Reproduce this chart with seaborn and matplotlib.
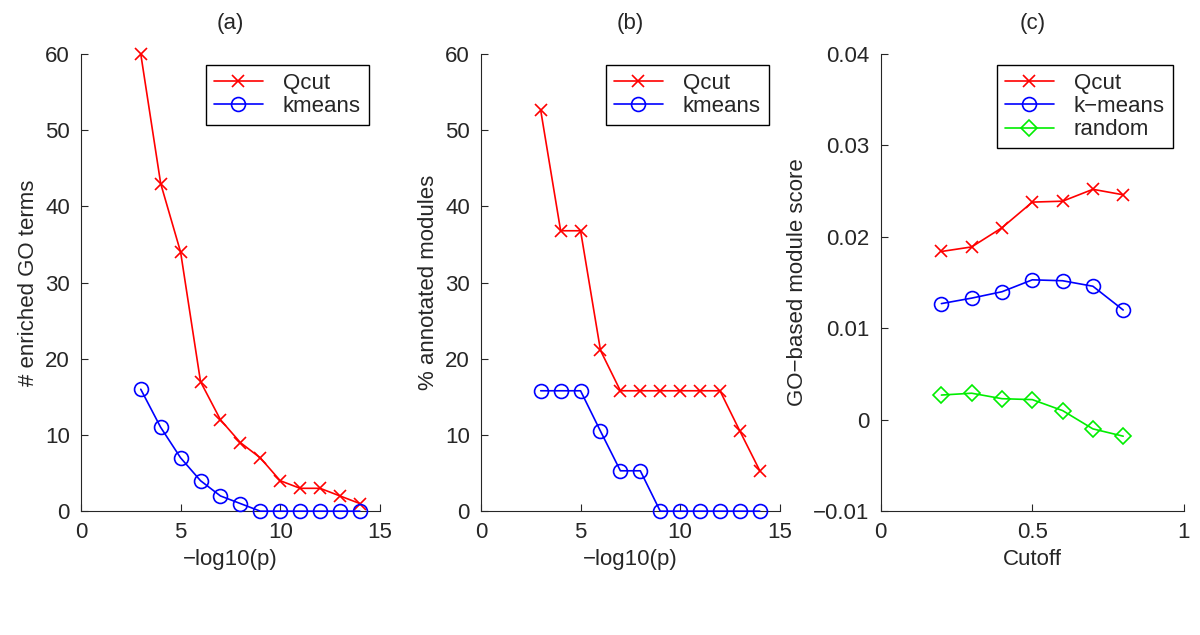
import seaborn as sns
import matplotlib.pyplot as plt
import pandas as pd

# data
p_cut = [3, 4, 5, 6, 7, 8, 9, 10, 11, 12, 13, 14]
go_qcut = [60, 43, 34, 17, 12, 9, 7, 4, 3, 3, 2, 1]
go_kmeans = [16, 11, 7, 4, 2, 1, 0, 0, 0, 0, 0, 0]
pct_qcut = [52.6, 36.8, 36.8, 21.1, 15.8, 15.8, 15.8, 15.8, 15.8, 15.8, 10.5, 5.3]
pct_kmeans = [15.8, 15.8, 15.8, 10.5, 5.3, 5.3, 0, 0, 0, 0, 0, 0]
cutoff = [0.2, 0.3, 0.4, 0.5, 0.6, 0.7, 0.8]
score_qcut = [0.0184, 0.0189, 0.0210, 0.0238, 0.0239, 0.0252, 0.0246]
score_kmeans = [0.0127, 0.0133, 0.0140, 0.0153, 0.0152, 0.0146, 0.0120]
score_random = [0.0027, 0.0029, 0.0023, 0.0022, 0.0010, -0.0010, -0.0018]

sns.set_style("ticks")
plt.rcParams['font.family'] = ['Liberation Sans', 'DejaVu Sans']
plt.rcParams['font.size'] = 16
plt.rcParams['xtick.direction'] = 'in'
plt.rcParams['ytick.direction'] = 'in'

fig = plt.figure(figsize=(12, 6.35), dpi=100)
ax_a = fig.add_axes([0.0675, 0.195, 0.249, 0.72])
ax_b = fig.add_axes([0.4008, 0.195, 0.249, 0.72])
ax_c = fig.add_axes([0.734, 0.195, 0.2525, 0.72])

styles = {
    "Qcut": dict(color="#ff0000", marker="x", markersize=9, mfc="#ff0000"),
    "kmeans": dict(color="#0000ff", marker="o", markersize=10, mfc="none"),
    "k\u2212means": dict(color="#0000ff", marker="o", markersize=10, mfc="none"),
    "random": dict(color="#00ee00", marker="D", markersize=8.5, mfc="none"),
}


def draw(ax, x, series):
    for name, vals in series:
        st = styles[name]
        sns.lineplot(x=x, y=vals, ax=ax, label=name, color=st["color"], lw=1.2,
                     marker=st["marker"], markersize=st["markersize"],
                     markerfacecolor=st["mfc"], markeredgecolor=st["color"],
                     markeredgewidth=1.2, clip_on=False, zorder=3)
    leg = ax.legend(loc="upper right", frameon=True, fancybox=False,
                    edgecolor="black", fontsize=16, handlelength=2.2,
                    borderpad=0.35, labelspacing=0.1, handletextpad=0.9,
                    framealpha=1)
    leg.get_frame().set_linewidth(1.0)
    ax.tick_params(direction="in", labelsize=16, length=5, width=0.8, pad=8)
    sns.despine(ax=ax)
    for s in ["left", "bottom"]:
        ax.spines[s].set_linewidth(0.8)


draw(ax_a, p_cut, [("Qcut", go_qcut), ("kmeans", go_kmeans)])
ax_a.set_xlim(0, 15)
ax_a.set_ylim(0, 60)
ax_a.set_xticks([0, 5, 10, 15])
ax_a.set_yticks([0, 10, 20, 30, 40, 50, 60])
ax_a.set_xlabel("\u2212log10(p)", fontsize=16)
ax_a.set_ylabel("# enriched GO terms", fontsize=16)
ax_a.set_title("(a)", fontsize=16, pad=18)

draw(ax_b, p_cut, [("Qcut", pct_qcut), ("kmeans", pct_kmeans)])
ax_b.set_xlim(0, 15)
ax_b.set_ylim(0, 60)
ax_b.set_xticks([0, 5, 10, 15])
ax_b.set_yticks([0, 10, 20, 30, 40, 50, 60])
ax_b.set_xlabel("\u2212log10(p)", fontsize=16)
ax_b.set_ylabel("% annotated modules", fontsize=16)
ax_b.set_title("(b)", fontsize=16, pad=18)

draw(ax_c, cutoff, [("Qcut", score_qcut), ("k\u2212means", score_kmeans),
                    ("random", score_random)])
ax_c.set_xlim(0, 1)
ax_c.set_ylim(-0.01, 0.04)
ax_c.set_xticks([0, 0.5, 1])
ax_c.set_xticklabels(["0", "0.5", "1"])
ax_c.set_yticks([-0.01, 0, 0.01, 0.02, 0.03, 0.04])
ax_c.set_yticklabels(["\u22120.01", "0", "0.01", "0.02", "0.03", "0.04"])
ax_c.set_xlabel("Cutoff", fontsize=16)
ax_c.set_ylabel("GO\u2212based module score", fontsize=16)
ax_c.set_title("(c)", fontsize=16, pad=18)

fig.savefig("out.png", dpi=100)
